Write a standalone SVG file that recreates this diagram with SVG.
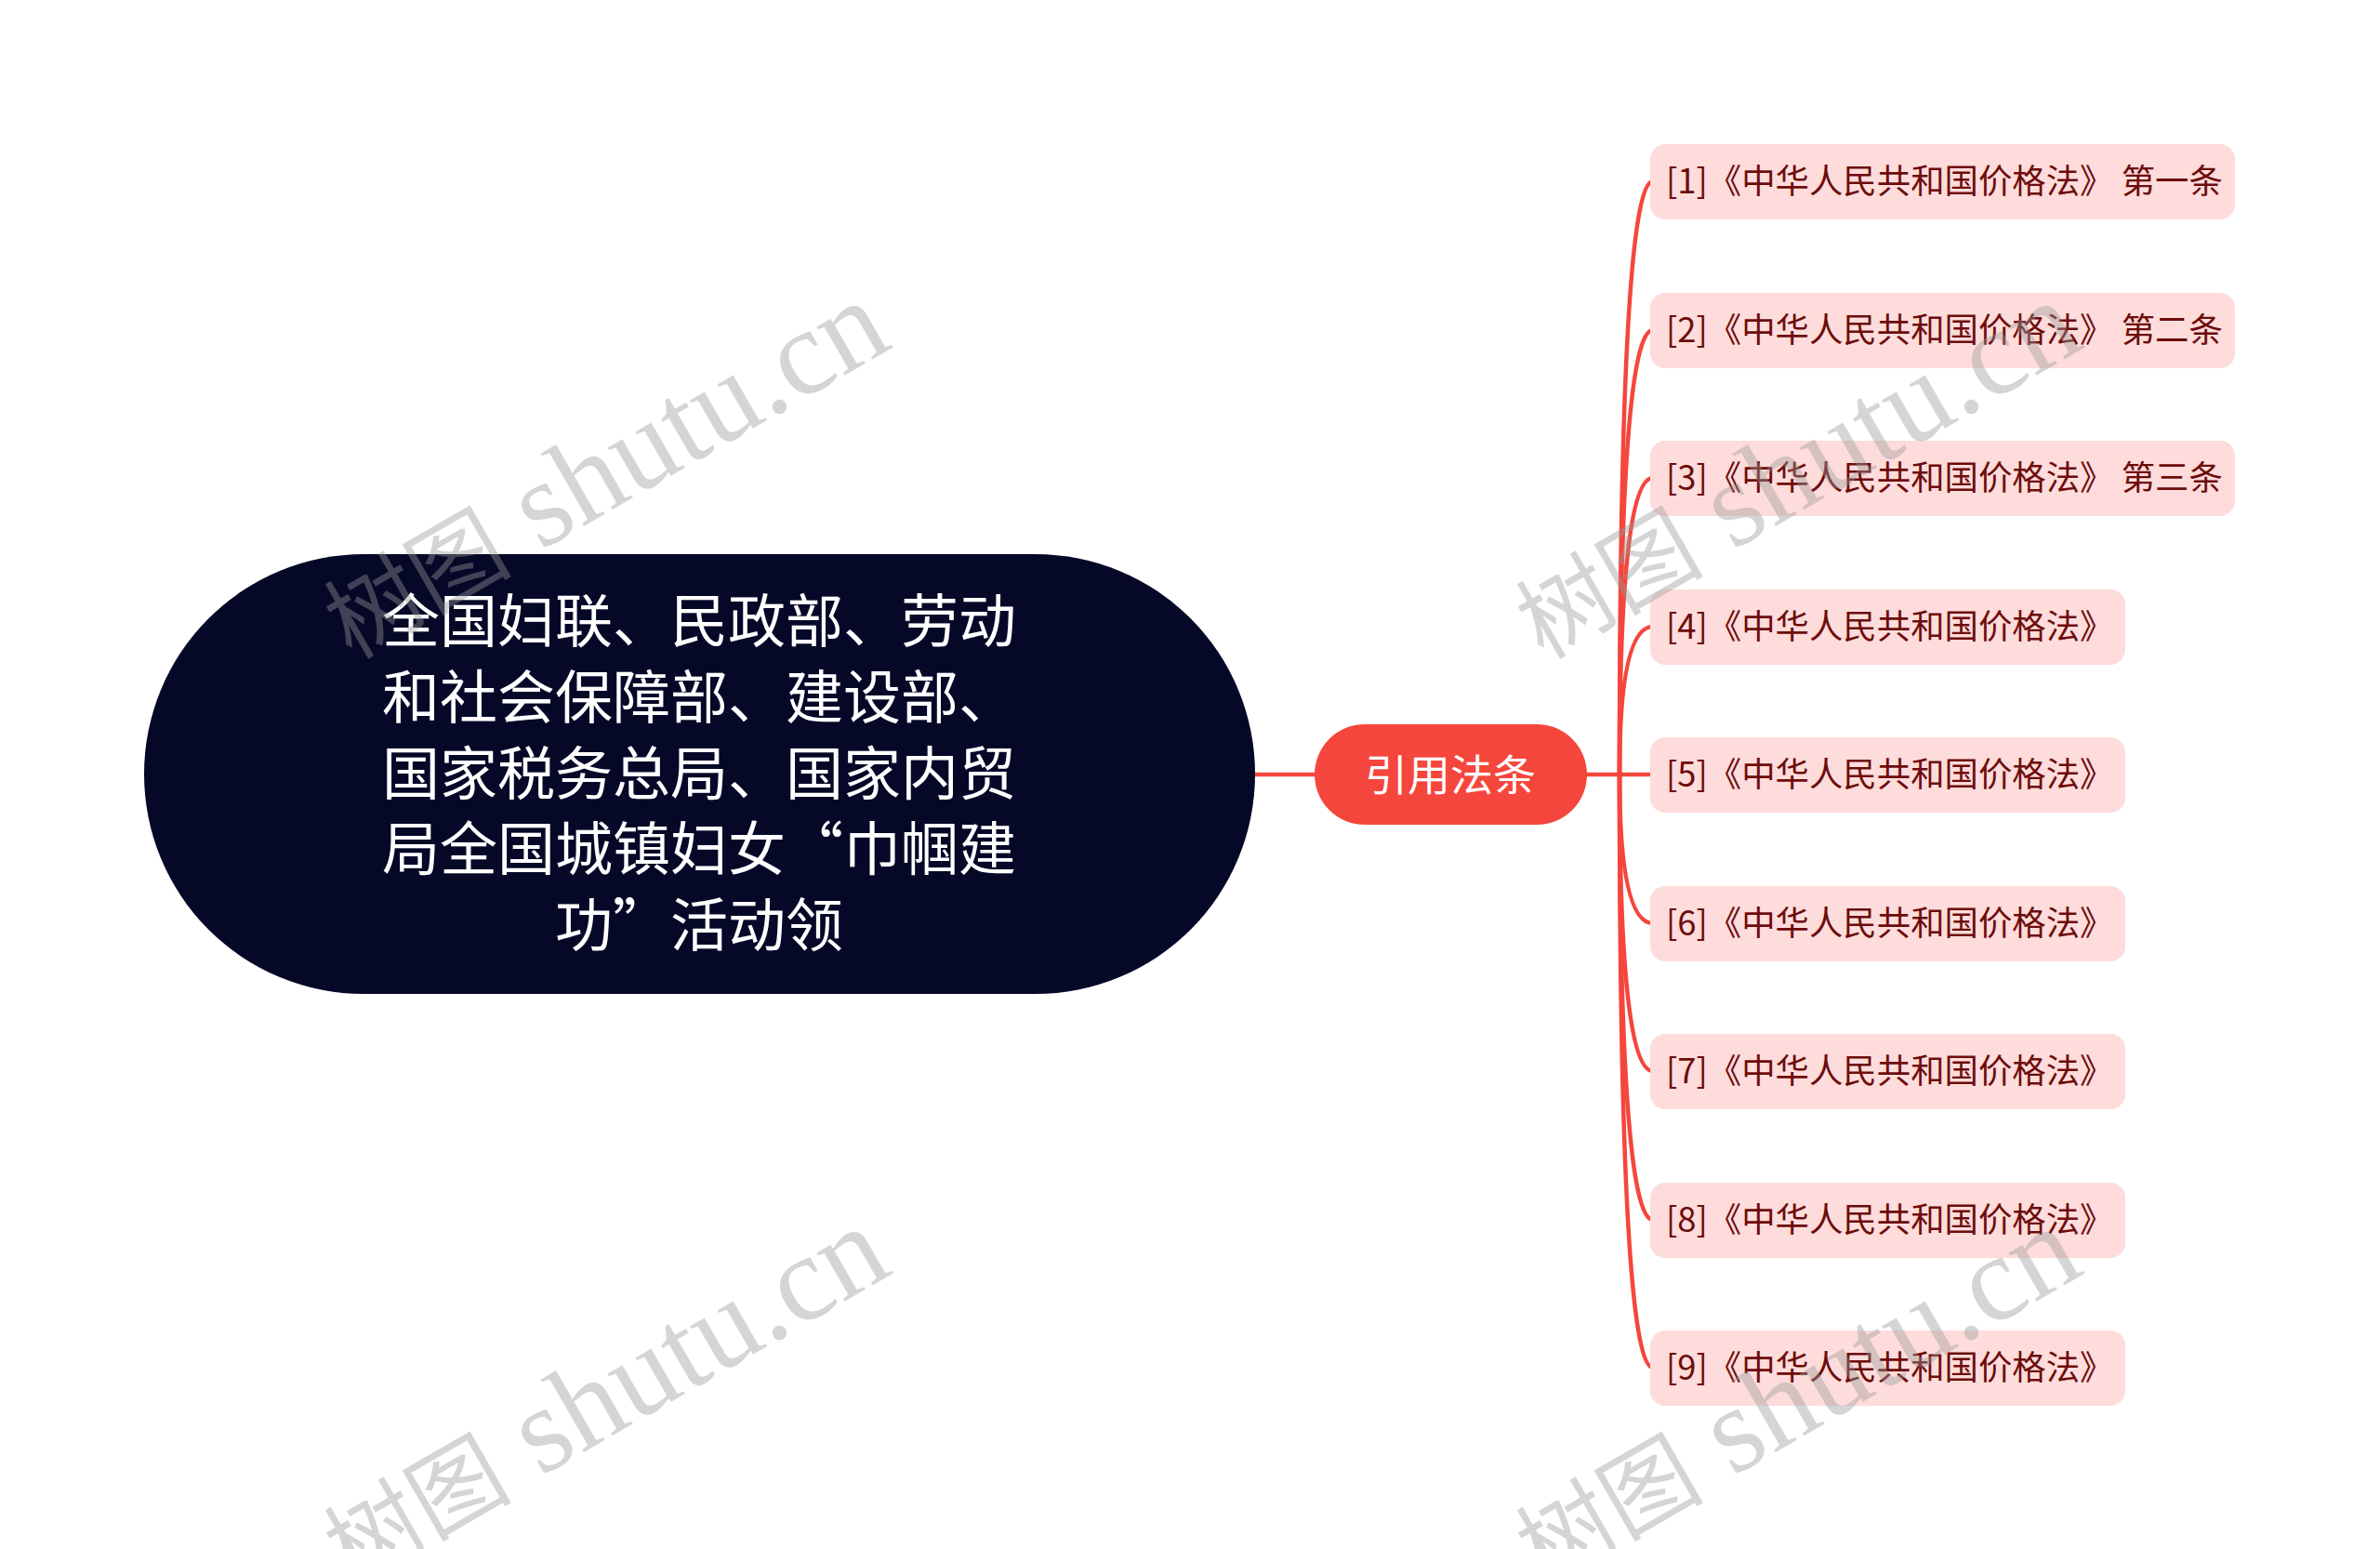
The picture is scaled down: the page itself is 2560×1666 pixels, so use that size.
<svg xmlns="http://www.w3.org/2000/svg" width="2560" height="1666" viewBox="0 0 2560 1666">
<style>
.root-shape{fill:#060828}
.root-text{fill:#ffffff;font-family:"Noto Sans CJK SC","Noto Sans",sans-serif;font-size:62px;text-anchor:middle}
.mid-shape{fill:#f5463d}
.mid-text{fill:#ffffff;font-family:"Noto Sans CJK SC","Noto Sans",sans-serif;font-size:46px;text-anchor:middle}
.leaf-shape{fill:#fddcdb}
.leaf-text{fill:#6e0c0c;font-family:"Noto Sans CJK SC","Noto Sans",sans-serif;font-size:36.4px}
.conn{fill:none;stroke:#f5463d;stroke-width:4.5;stroke-linecap:round}
.wm{fill:#999999;opacity:0.4;font-family:"Liberation Serif","Noto Sans CJK SC",serif;font-size:131px}
.wm-cjk{font-size:101px}
</style>
<rect width="2560" height="1666" fill="#ffffff"/>
<g id="connectors">
<path class="conn" d="M1350 833 L1414 833"/>
<path class="conn" d="M1707 833 L1780 833"/>
<path class="conn" d="M1742 833 Q1742 195 1778 195"/>
<path class="conn" d="M1742 833 Q1742 355 1778 355"/>
<path class="conn" d="M1742 833 Q1742 514 1778 514"/>
<path class="conn" d="M1742 833 Q1742 674 1778 674"/>
<path class="conn" d="M1742 833 Q1742 993 1778 993"/>
<path class="conn" d="M1742 833 Q1742 1152 1778 1152"/>
<path class="conn" d="M1742 833 Q1742 1312 1778 1312"/>
<path class="conn" d="M1742 833 Q1742 1471 1778 1471"/>
</g>
<g id="root">
<rect class="root-shape" x="155" y="596" width="1195" height="473" rx="236.5" ry="236.5"/>
<text class="root-text" x="752" y="691">全国妇联、民政部、劳动</text>
<text class="root-text" x="752" y="773">和社会保障部、建设部、</text>
<text class="root-text" x="752" y="855">国家税务总局、国家内贸</text>
<text class="root-text" x="752" y="936">局全国城镇妇女“巾帼建</text>
<text class="root-text" x="752" y="1018">功”活动领</text>
</g>
<g id="mid">
<rect class="mid-shape" x="1414" y="779" width="293" height="108" rx="54" ry="54"/>
<text class="mid-text" x="1560" y="850">引用法条</text>
</g>
<g id="leaf1"><rect class="leaf-shape" x="1775" y="155" width="629" height="81" rx="16"/><text class="leaf-text" x="1792" y="208">[1]《中华人民共和国价格法》 第一条</text></g>
<g id="leaf2"><rect class="leaf-shape" x="1775" y="315" width="629" height="81" rx="16"/><text class="leaf-text" x="1792" y="368">[2]《中华人民共和国价格法》 第二条</text></g>
<g id="leaf3"><rect class="leaf-shape" x="1775" y="474" width="629" height="81" rx="16"/><text class="leaf-text" x="1792" y="527">[3]《中华人民共和国价格法》 第三条</text></g>
<g id="leaf4"><rect class="leaf-shape" x="1775" y="634" width="511" height="81" rx="16"/><text class="leaf-text" x="1792" y="687">[4]《中华人民共和国价格法》</text></g>
<g id="leaf5"><rect class="leaf-shape" x="1775" y="793" width="511" height="81" rx="16"/><text class="leaf-text" x="1792" y="846">[5]《中华人民共和国价格法》</text></g>
<g id="leaf6"><rect class="leaf-shape" x="1775" y="953" width="511" height="81" rx="16"/><text class="leaf-text" x="1792" y="1006">[6]《中华人民共和国价格法》</text></g>
<g id="leaf7"><rect class="leaf-shape" x="1775" y="1112" width="511" height="81" rx="16"/><text class="leaf-text" x="1792" y="1165">[7]《中华人民共和国价格法》</text></g>
<g id="leaf8"><rect class="leaf-shape" x="1775" y="1272" width="511" height="81" rx="16"/><text class="leaf-text" x="1792" y="1325">[8]《中华人民共和国价格法》</text></g>
<g id="leaf9"><rect class="leaf-shape" x="1775" y="1431" width="511" height="81" rx="16"/><text class="leaf-text" x="1792" y="1484">[9]《中华人民共和国价格法》</text></g>
<g id="watermarks">
<text class="wm" transform="translate(378 710) rotate(-30)"><tspan class="wm-cjk">树图</tspan> shutu.cn</text>
<text class="wm" transform="translate(1660 710) rotate(-30)"><tspan class="wm-cjk">树图</tspan> shutu.cn</text>
<text class="wm" transform="translate(378 1706) rotate(-30)"><tspan class="wm-cjk">树图</tspan> shutu.cn</text>
<text class="wm" transform="translate(1660 1706) rotate(-30)"><tspan class="wm-cjk">树图</tspan> shutu.cn</text>
</g>
</svg>
